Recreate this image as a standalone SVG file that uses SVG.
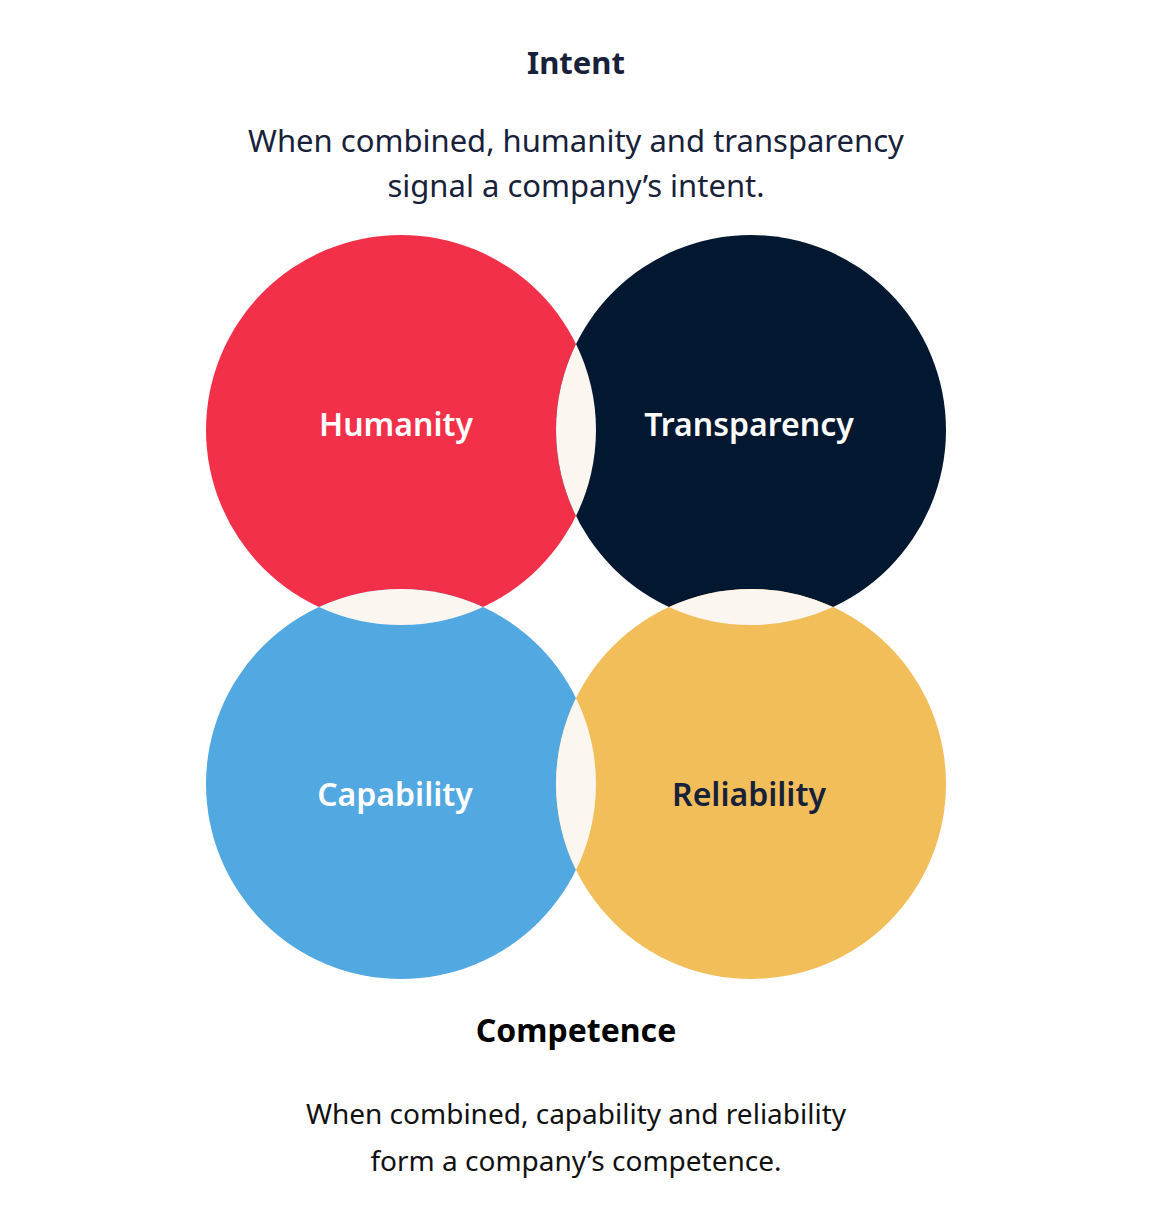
<svg xmlns="http://www.w3.org/2000/svg" width="1152" height="1216" viewBox="0 0 1152 1216">
<style>
.t{font-family:"Noto Sans","Open Sans","Liberation Sans",sans-serif;text-anchor:middle}
.h{font-weight:700}
.b{font-weight:400}
.l{font-size:32px;font-weight:600}
.lens{fill:#FCF6F1}
</style>
<rect width="1152" height="1216" fill="#FFFFFF"/>
<g id="intent-heading">
<text class="t h" x="576" y="74" font-size="31" fill="#18213A">Intent</text>
<text class="t b" x="576" y="152" font-size="31" fill="#18213A">When combined, humanity and transparency</text>
<text class="t b" x="576" y="197" font-size="31" fill="#18213A">signal a company’s intent.</text>
</g>
<g id="humanity"><circle cx="401" cy="430" r="195" fill="#F2304A"/><text class="t l" x="396" y="436" fill="#FFFFFF">Humanity</text></g>
<g id="transparency"><circle cx="751" cy="430" r="195" fill="#021730"/><text class="t l" x="749" y="436" fill="#FFFFFF">Transparency</text></g>
<g id="capability"><circle cx="401" cy="784" r="195" fill="#52A9E2"/><text class="t l" x="395" y="806" fill="#FFFFFF">Capability</text></g>
<g id="reliability"><circle cx="751" cy="784" r="195" fill="#F1BE5A"/><text class="t l" x="749" y="806" fill="#18213A">Reliability</text></g>
<g id="connectors">
<path class="lens" d="M576 344 A195 195 0 0 1 576 516 A195 195 0 0 1 576 344 Z"/>
<path class="lens" d="M576 698 A195 195 0 0 1 576 870 A195 195 0 0 1 576 698 Z"/>
<path class="lens" d="M319 607 A195 195 0 0 1 483 607 A195 195 0 0 1 319 607 Z"/>
<path class="lens" d="M669 607 A195 195 0 0 1 833 607 A195 195 0 0 1 669 607 Z"/>
</g>
<g id="competence-heading">
<text class="t h" x="576" y="1042" font-size="32" fill="#000000">Competence</text>
<text class="t b" x="576" y="1124" font-size="28" fill="#111111">When combined, capability and reliability</text>
<text class="t b" x="576" y="1171" font-size="28" fill="#111111">form a company’s competence.</text>
</g>
</svg>
